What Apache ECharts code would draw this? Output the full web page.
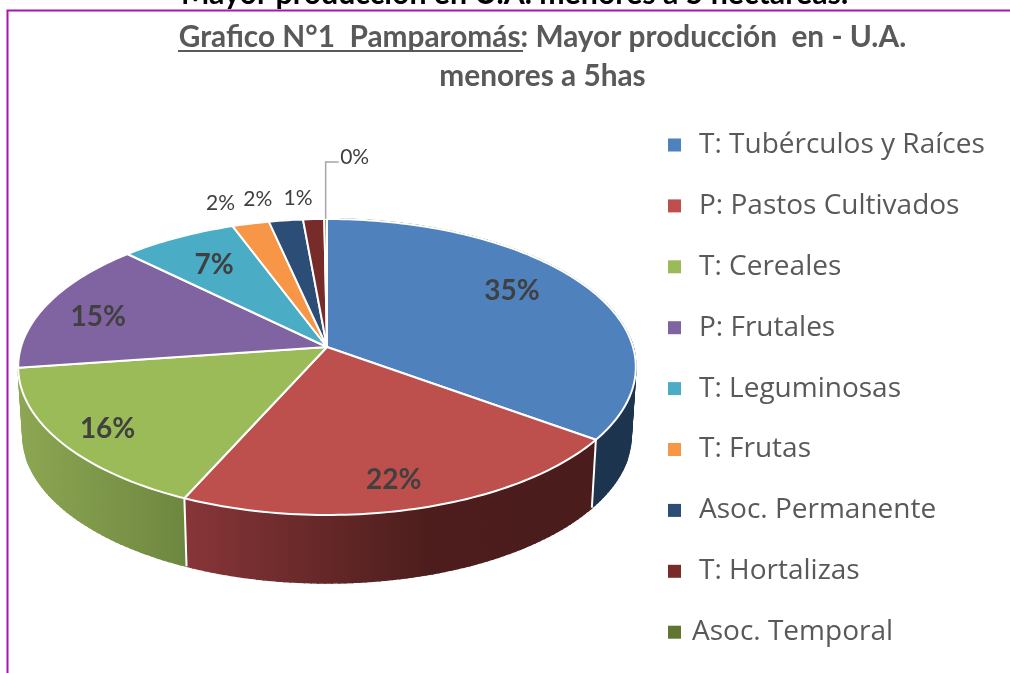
<!DOCTYPE html>
<html><head><meta charset="utf-8">
<style>html,body{margin:0;padding:0;background:#fff;overflow:hidden}#c{width:1010px;height:673px}</style>
<script src="https://cdn.jsdelivr.net/npm/echarts@6/dist/echarts.min.js"></script>
</head><body><div id="c"></div>
<script>
// ---- data
const categories = ['T: Tubérculos y Raíces','P: Pastos Cultivados','T: Cereales','P: Frutales','T: Leguminosas','T: Frutas','Asoc. Permanente','T: Hortalizas','Asoc. Temporal'];
const values = [35.0, 21.7, 16.05, 14.6, 7.0, 2.2, 2.03, 1.26, 0.16];
const colors = ['#4f81bd','#bd4f4d','#9bbb59','#8064a2','#4bacc6','#f79646','#2c4d75','#772c2a','#5f7530'];

// ---- projection of the tilted disc
const CX = 327, CY = 347, RX = 306, RY = 145.3, K = -0.135, DEPTH = 68, BOTTOM_SCALE = 0.985;
const total = values.reduce((a, b) => a + b, 0);
const starts = []; values.reduce((acc, v, i) => { starts[i] = acc; return acc + v; }, 0);
const ang = p => p / total * 2 * Math.PI;
function project(theta, r) {
  const u = r * Math.sin(theta), v = -r * Math.cos(theta), w = 1 + K * v;
  return [CX + RX * u / w, CY + RY * v / w];
}
function bottom(theta) {
  const p = project(theta, 1);
  return [CX + (p[0] - CX) * BOTTOM_SCALE, p[1] + DEPTH];
}
function arc(a0, a1, fn) {
  const n = Math.max(2, Math.ceil((a1 - a0) / 0.02)), out = [];
  for (let i = 0; i <= n; i++) out.push(fn(a0 + (a1 - a0) * i / n));
  return out;
}
// ---- side wall fills for the three front slices
const wallFills = [
  '#1e3550',
  {type:'linear',global:true,x:186,y:0,x2:593,y2:0,colorStops:[{offset:0,color:'#873538'},{offset:0.6,color:'#4c1d1c'},{offset:1,color:'#4a1c1b'}]},
  {type:'linear',global:true,x:20,y:0,x2:186,y2:0,colorStops:[{offset:0,color:'#8ca653'},{offset:1,color:'#6e873f'}]}
];
// label placement relative to the slice (radial fraction, then pixel nudge)
const labelPlace = [[.7,2,-12,1],[.7,6,25,1],[.7,-38,17,1],[.7,-31,1,1],[.7,-5,-3,1],[1,-30,-20,0],[1,-28,-21,0],[1,-15.5,-21,0],[1,29,-62,0]];

function renderWall(params) {
  const i = params.dataIndex;
  if (i >= wallFills.length) return {type:'group',children:[]};
  const a0 = ang(starts[i]), a1 = ang(starts[i] + values[i]);
  const tops = arc(a0, a1, t => project(t, 1)), bots = arc(a0, a1, bottom);
  const children = [];
  for (let s = 0; s + 1 < tops.length; s++) {
    children.push({type:'polygon',shape:{points:[tops[s],tops[s+1],bots[s+1],bots[s]]},
      style:{fill:wallFills[i],stroke:wallFills[i],lineWidth:1.5}});
  }
  if (i > 0) children.push({type:'line',shape:{x1:tops[0][0],y1:tops[0][1],x2:bots[0][0],y2:bots[0][1]},style:{stroke:'#fff',lineWidth:2}});
  return {type:'group',children};
}
function renderTop(i) {
  const a0 = ang(starts[i]), a1 = ang(starts[i] + values[i]);
  const pts = [[CX, CY]].concat(arc(a0, a1, t => project(t, 1)));
  return {type:'polygon',shape:{points:pts},style:{fill:colors[i],stroke:'#fff',lineWidth:2,lineJoin:'round'}};
}
function renderLabel(params) {
  const i = params.dataIndex, pl = labelPlace[i];
  const mid = ang(starts[i] + values[i] / 2), b = project(mid, pl[0]);
  const x = b[0] + pl[1], y = b[1] + pl[2];
  const children = [{type:'text',style:{x,y,text:Math.round(values[i] / total * 100) + '%',align:'center',verticalAlign:'middle',
    font:(pl[3] ? 'bold 28px Lato' : '21px Lato'),fill:'#404040'}}];
  if (i === values.length - 1) {
    children.push({type:'polyline',shape:{points:[b,[b[0],y+5],[x-16,y+5]]},style:{fill:'none',stroke:'#a6a6a6',lineWidth:1.5}});
  }
  return {type:'group',children};
}
const series = [{type:'custom',coordinateSystem:'none',silent:true,z:1,renderItem:renderWall,data:values.map(v=>[v])}];
categories.forEach((name, i) => series.push({
  type:'custom',name,coordinateSystem:'none',z:2,itemStyle:{color:colors[i]},
  renderItem:()=>renderTop(i),data:[[values[i]]]
}));
series.push({type:'custom',coordinateSystem:'none',silent:true,z:3,renderItem:renderLabel,data:values.map(v=>[v])});

const chart = echarts.init(document.getElementById('c'),null,{renderer:'canvas'});
chart.setOption({
  animation:false,
  backgroundColor:'#fff',
  title:[
    {text:'Mayor producción en U.A. menores a 5 hectáreas.',left:509.5,textAlign:'center',top:-26,textStyle:{fontFamily:'Lato',fontWeight:'bold',fontSize:30.3,color:'#000'}},
    {text:'{u|Grafico N°1  Pamparomás}{b|: Mayor producción  en - U.A.}\n{b|menores a 5has}',left:537.5,textAlign:'center',top:13,
     textStyle:{align:'center',lineHeight:39,rich:{
       u:{fontFamily:'Lato',fontWeight:'bold',fontSize:29.8,color:'#595959',lineHeight:39},
       b:{fontFamily:'Lato',fontWeight:'bold',fontSize:29.8,color:'#595959',lineHeight:39}}}}
  ],
  graphic:[
    {type:'rect',z:0,silent:true,shape:{x:7.5,y:10.5,width:1100,height:800},style:{fill:'none',stroke:'#a815ae',lineWidth:2}},
    {type:'rect',z:5,silent:true,shape:{x:178,y:50,width:345,height:2},style:{fill:'#595959'}}
  ],
  legend:{
    orient:'vertical',left:663,top:126,itemWidth:13,itemHeight:13,itemGap:32.9,selectedMode:false,icon:'rect',
    data:categories,
    formatter:name=>name==='Asoc. Temporal'?`{t|${name}}`:`{n|${name}}`,
    textStyle:{rich:{
      n:{fontFamily:'Open Sans',fontSize:28,color:'#595959',padding:[0,0,0,13],lineHeight:34},
      t:{fontFamily:'Open Sans',fontSize:28,color:'#595959',padding:[0,0,0,6],lineHeight:34}}}
  },
  series
});
</script></body></html>
